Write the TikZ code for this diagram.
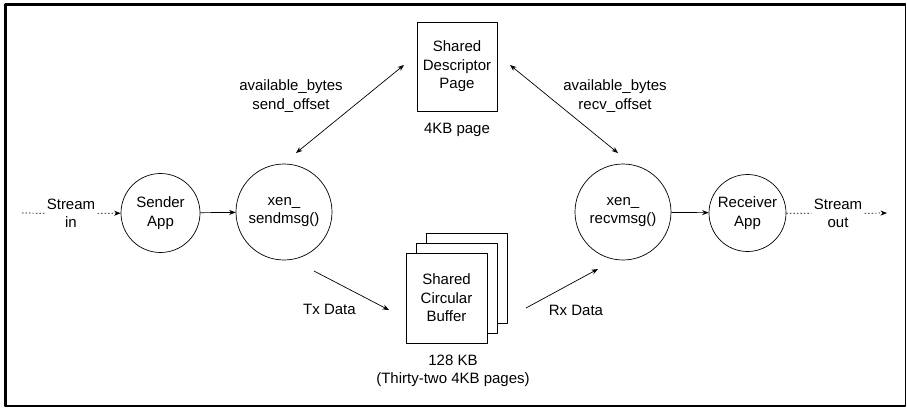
\documentclass[tikz,border=0pt]{standalone}
\usepackage{fontspec}
\setmainfont{Liberation Sans}
\usetikzlibrary{arrows.meta}
\begin{document}
\begin{tikzpicture}[x=1pt,y=-1pt,line join=round,>={Stealth[length=6.5pt,width=5pt]},line width=0.7pt,
    font=\fontsize{15}{18.5}\selectfont,
    proc/.style={draw,circle,inner sep=0pt,align=center},
    page/.style={draw,fill=white,minimum width=81pt,minimum height=90pt,inner sep=0pt,align=center},
    lbl/.style={align=center,inner sep=1pt},
    loose/.style={dash pattern=on 1.5pt off 2pt}]
                \useasboundingbox (0,0) rectangle (907,408);
                \draw[line width=1.2pt] (5,4.2) rectangle (905.8,406);
                \draw[line width=3pt] (5,406) -- (5,4.2) -- (905.8,4.2);
                % processes
                \node[proc,minimum size=79pt] (sender) at (160.5,213) {Sender\\App};
                \node[proc,minimum size=96pt] (send) at (284,212) {xen\_\\sendmsg()};
                \node[proc,minimum size=96pt] (recv) at (623,212) {xen\_\\recvmsg()};
                \node[proc,minimum size=77pt] (receiver) at (747.5,213) {Receiver\\App};
                % shared pages
                \node[draw,minimum width=80pt,minimum height=89pt,align=center] (desc) at (457,66.5) {Shared\\Descriptor\\Page};
                \node[lbl] (desclbl) at (457,130) {4KB page};
                \node[page] (buf3) at (466.5,278) {};
                \node[page] (buf2) at (456.5,288) {};
                \node[page] (buf) at (446.5,298) {Shared\\Circular\\Buffer};
                \node[lbl] (buflbl) at (453,371) {128 KB\\(Thirty-two 4KB pages)};
                % stream ends
                \coordinate (inL) at (22,213);
                \coordinate (outR) at (887,213);
                \node[lbl,fill=white,inner sep=2pt] (stin) at (71,213.5) {Stream\\in};
                \node[lbl,fill=white,inner sep=2pt] (stout) at (838,213.5) {Stream\\out};
                \draw[loose] (inL) -- (stin);
                \draw[loose,->] (stin) -- (sender);
                \draw[loose] (receiver) -- (stout);
                \draw[loose,->] (stout) -- (outR);
                \draw[->] (sender) -- (send);
                \draw[->] (recv) -- (receiver);
                % descriptor traffic
                \coordinate (s1) at (296,153);
                \coordinate (d1) at (404,65);
                \coordinate (d2) at (510,65);
                \coordinate (r1) at (618,153);
                \draw[<->] (s1) -- (d1);
                \draw[<->] (d2) -- (r1);
                \node[lbl] (sendlbl) at (291,96) {available\_bytes\\send\_offset};
                \node[lbl] (recvlbl) at (615,96) {available\_bytes\\recv\_offset};
                % data traffic
                \coordinate (tx0) at (314,271);
                \coordinate (tx1) at (389,310);
                \coordinate (rx0) at (526,308);
                \coordinate (rx1) at (598,269);
                \draw[->] (tx0) -- (tx1);
                \draw[->] (rx0) -- (rx1);
                \node[lbl] (txlbl) at (329.5,309) {Tx Data};
                \node[lbl] (rxlbl) at (576,310) {Rx Data};
            \end{tikzpicture}
\end{document}
